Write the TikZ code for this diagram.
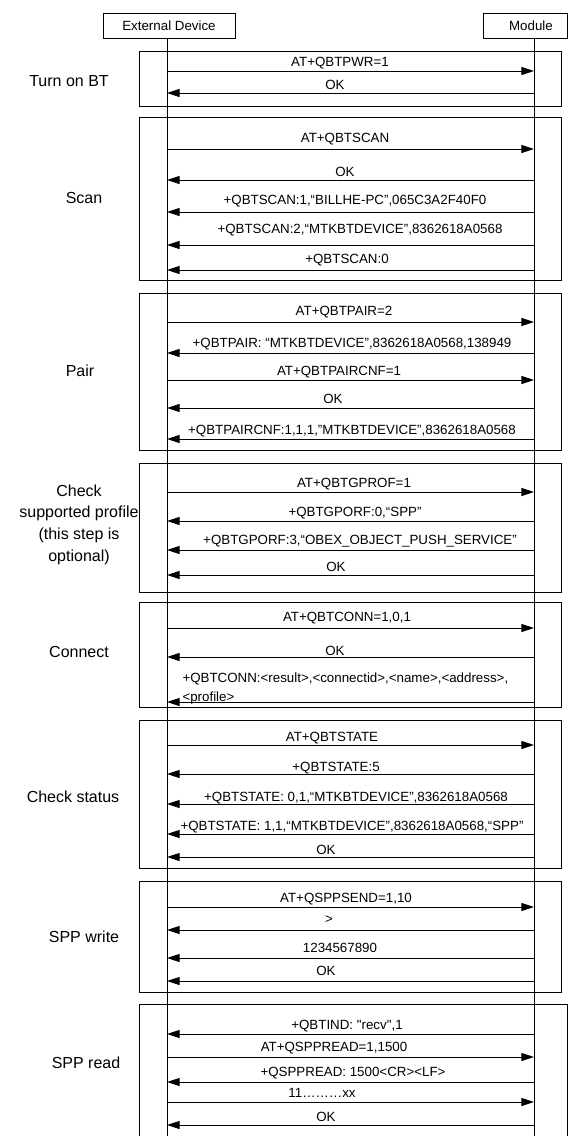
\documentclass[tikz,border=0pt]{standalone}
\usepackage{fontspec}
\setmainfont{Liberation Sans}[Ligatures=TeXOff]
\usetikzlibrary{arrows.meta}
\newcommand{\toModule}[5]{
%    \toModule{name}{arrow y}{label x}{label y}{text}
	\draw[msg] (extL |- 0,#2) -- (modL |- 0,#2);
	\node[lbl] (#1) at (#3,#4) {#5};
}
\newcommand{\toDevice}[5]{
%    \toDevice{name}{arrow y}{label x}{label y}{text}
	\draw[msg] (modL |- 0,#2) -- (extL |- 0,#2);
	\node[lbl] (#1) at (#3,#4) {#5};
}
\tikzset{
	msg/.style = {-{Triangle[length=9.5pt, width=6pt]}, line width=0.75pt},
	lbl/.style = {inner sep=0pt, anchor=base, yshift=-3.6pt,
	              font=\fontsize{10pt}{12pt}\selectfont},
	steplbl/.style = {inner sep=0pt, align=center,
	                  font=\fontsize{12pt}{16.3pt}\selectfont},
	party/.style = {draw, line width=0.75pt, minimum height=18.75pt, inner sep=0pt,
	                font=\fontsize{10pt}{12pt}\selectfont}
}
\begin{document}
\begin{tikzpicture}[x=0.75pt, y=-0.75pt, line width=0.75pt]
    \useasboundingbox[fill=white] (0,0) rectangle (568,1136);

%Participants
    \node[party, minimum width=99pt] (ext) at (169,25.5) {External Device};
    \node[party, minimum width=63pt] (mod) at (525,25.5) {\hspace*{9pt}Module};
    \coordinate (extL) at (167,38);
    \coordinate (modL) at (534,38);

%Lifelines
    \draw (extL) -- (extL |- 0,1136);
    \draw (modL) -- (modL |- 0,1136);

%Step frames
    \foreach \ya/\yb in {51/106, 117/280, 293/450, 463/592, 602/707, 720/868, 881/992}
    {
        \draw (139,\ya) rectangle (561,\yb);
    }
    \draw (139,1140) -- (139,1004) -- (567,1004) -- (567,1140);

%Step names
    \node[steplbl] (turnon)  at (69,81)    {Turn on BT};
    \node[steplbl] (scan)    at (84,198)   {Scan};
    \node[steplbl] (pair)    at (80,371)   {Pair};
    \node[steplbl] (profile) at (79,524.5) {Check\\supported profile\\(this step is\\optional)};
    \node[steplbl] (connect) at (79,652)   {Connect};
    \node[steplbl] (status)  at (73,797)   {Check status};
    \node[steplbl] (write)   at (84,937)   {SPP write};
    \node[steplbl] (read)    at (86,1063)  {SPP read};

%Turn on BT
    \toModule{pwr}{71}{340}{62}{AT+QBTPWR=1}
    \toDevice{pwrok}{93}{335}{85}{OK}

%Scan
    \toModule{scancmd}{149}{345}{138}{AT+QBTSCAN}
    \toDevice{scanok}{180}{345}{172}{OK}
    \toDevice{scanA}{212}{355}{200}{+QBTSCAN:1,“BILLHE-PC”,065C3A2F40F0}
    \toDevice{scanB}{245}{360}{229}{+QBTSCAN:2,“MTKBTDEVICE”,8362618A0568}
    \toDevice{scanC}{270}{347}{259}{+QBTSCAN:0}

%Pair
    \toModule{paircmd}{322}{344}{311}{AT+QBTPAIR=2}
    \toDevice{pairind}{353}{352}{343}{+QBTPAIR: “MTKBTDEVICE”,8362618A0568,138949}
    \toModule{cnfcmd}{380}{339}{371}{AT+QBTPAIRCNF=1}
    \toDevice{cnfok}{408}{333}{399}{OK}
    \toDevice{cnfind}{439}{352}{430}{+QBTPAIRCNF:1,1,1,”MTKBTDEVICE”,8362618A0568}

%Check supported profile
    \toModule{profcmd}{492}{354}{483}{AT+QBTGPROF=1}
    \toDevice{profA}{521}{355}{512}{+QBTGPORF:0,“SPP”}
    \toDevice{profB}{550}{360}{540}{+QBTGPORF:3,“OBEX\_OBJECT\_PUSH\_SERVICE”}
    \toDevice{profok}{575}{336}{567}{OK}

%Connect
    \toModule{conncmd}{628}{347}{617}{AT+QBTCONN=1,0,1}
    \toDevice{connok}{657}{335}{651}{OK}
    \draw[msg] (modL |- 0,702) -- (extL |- 0,702);
    \node[lbl, anchor=west, yshift=0pt, align=left, font=\fontsize{10pt}{14.25pt}\selectfont]
        (connind) at (182,683.5) {+QBTCONN:<result>,<connectid>,<name>,<address>,\\<profile>};

%Check status
    \toModule{statecmd}{745}{332}{737}{AT+QBTSTATE}
    \toDevice{stateA}{774}{336}{767}{+QBTSTATE:5}
    \toDevice{stateB}{804}{356}{797}{+QBTSTATE: 0,1,“MTKBTDEVICE”,8362618A0568}
    \toDevice{stateC}{834}{352}{826}{+QBTSTATE: 1,1,“MTKBTDEVICE”,8362618A0568,“SPP”}
    \toDevice{stateok}{857}{326}{850}{OK}

%SPP write
    \toModule{sendcmd}{907}{346}{898}{AT+QSPPSEND=1,10}
    \toDevice{prompt}{930}{329}{919}{>}
    \toDevice{data}{958}{340}{948}{1234567890}
    \toDevice{sendok}{981}{326}{971}{OK}

%SPP read
    \toDevice{recvind}{1034}{347}{1025}{+QBTIND: "recv",1}
    \toModule{readcmd}{1057}{334}{1047}{AT+QSPPREAD=1,1500}
    \toDevice{readlen}{1082}{353}{1072}{+QSPPREAD: 1500<CR><LF>}
    \toModule{readdata}{1102}{322}{1093}{11………xx}
    \toDevice{readok}{1125}{326}{1117}{OK}

\end{tikzpicture}
\end{document}
